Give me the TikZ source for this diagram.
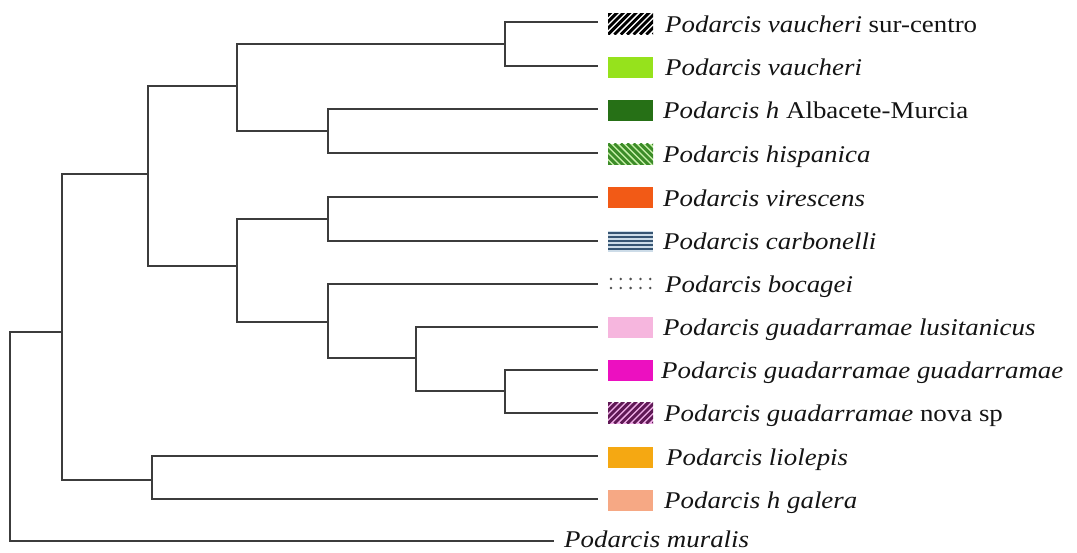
\documentclass[tikz,border=0pt]{standalone}
\usepackage{fontspec}
\usepackage{graphicx}
\setmainfont{Liberation Serif}
\newcommand{\lbtxt}[1]{\scalebox{1.12}[1]{#1}}
\definecolor{linegray}{RGB}{60,60,60}
\definecolor{txtcol}{RGB}{20,20,20}
\definecolor{limegr}{RGB}{150,226,28}
\definecolor{darkgr}{RGB}{38,112,22}
\definecolor{hisgr}{RGB}{60,140,40}
\definecolor{hisbg}{RGB}{200,240,170}
\definecolor{viror}{RGB}{242,90,22}
\definecolor{carbl}{RGB}{55,85,115}
\definecolor{carbg}{RGB}{205,220,232}
\definecolor{bocdot}{RGB}{80,80,80}
\definecolor{luspk}{RGB}{246,182,222}
\definecolor{guamg}{RGB}{236,16,192}
\definecolor{novpu}{RGB}{95,25,85}
\definecolor{novbg}{RGB}{240,175,232}
\definecolor{liolo}{RGB}{245,168,18}
\definecolor{galsa}{RGB}{246,168,132}
\begin{document}
\begin{tikzpicture}[x=1pt,y=-1pt,
  br/.style={line width=2pt, draw=linegray, line cap=rect},
  sw/.style={minimum width=45pt, minimum height=21pt, inner sep=0pt, outer sep=0pt},
  hatchne/.style 2 args={fill=#2, path picture={
     \foreach \k in {-5,...,8}{\draw[#1,line width=2.9pt] ([xshift={\k*6.4pt}]path picture bounding box.south west) -- ++(30pt,30pt);}}},
  hatchnw/.style 2 args={fill=#2, path picture={
     \foreach \k in {-5,...,8}{\draw[#1,line width=2.9pt] ([xshift={\k*6.4pt}]path picture bounding box.north west) -- ++(30pt,-30pt);}}},
  lbl/.style={anchor=base west, inner sep=0pt, text=txtcol, font=\fontsize{24}{28}\selectfont}
]
\useasboundingbox (0,0) rectangle (1077,552);

% leaf ends
\coordinate (l1) at (597,22);
\coordinate (l2) at (597,66);
\coordinate (l3) at (597,109);
\coordinate (l4) at (597,153);
\coordinate (l5) at (597,197);
\coordinate (l6) at (597,241);
\coordinate (l7) at (597,284);
\coordinate (l8) at (597,327);
\coordinate (l9) at (597,370);
\coordinate (l10) at (597,413);
\coordinate (l11) at (597,456);
\coordinate (l12) at (597,499);
\coordinate (l13) at (553,541);

% internal nodes
\coordinate (v) at (505,44);
\coordinate (ah) at (328,131);
\coordinate (A) at (237,86);
\coordinate (vc) at (328,219);
\coordinate (g2) at (505,391);
\coordinate (g1) at (416,358);
\coordinate (bg) at (328,322);
\coordinate (B) at (237,266);
\coordinate (C) at (148,174);
\coordinate (lg) at (152,480);
\coordinate (D) at (61.5,332);
\coordinate (R) at (9.5,332);

% branches
\draw[br] (l1) -| (v) |- (l2);
\draw[br] (l3) -| (ah) |- (l4);
\draw[br] (v) -| (A) |- (ah);
\draw[br] (l5) -| (vc) |- (l6);
\draw[br] (l9) -| (g2) |- (l10);
\draw[br] (l8) -| (g1) |- (g2);
\draw[br] (l7) -| (bg) |- (g1);
\draw[br] (vc) -| (B) |- (bg);
\draw[br] (A) -| (C) |- (B);
\draw[br] (l11) -| (lg) |- (l12);
\draw[br] (C) -| (D) |- (lg);
\draw[br] (D) -| (R) |- (l13);

% swatches
\node[sw, hatchne={black}{white}] (s1) at (630.5,24) {};
\node[sw, fill=limegr] (s2) at (630.5,67) {};
\node[sw, fill=darkgr] (s3) at (630.5,110) {};
\node[sw, hatchnw={hisgr}{hisbg}] (s4) at (630.5,154) {};
\node[sw, fill=viror] (s5) at (630.5,197.5) {};
\node[sw, fill=carbg, path picture={
   \foreach \k in {0,...,4}{\draw[carbl,line width=2.4pt] ([yshift={-2.4pt-\k*4.05pt}]path picture bounding box.north west) -- ++(45pt,0pt);}}] (s6) at (630.5,241) {};
\node[sw, path picture={
   \foreach \i in {0,...,4}{\foreach \j in {0,1}{\fill[bocdot] ([xshift={3pt+\i*9.8pt}, yshift={-6pt-\j*9pt}]path picture bounding box.north west) circle (1.4pt);}}}] (s7) at (630.5,283.5) {};
\node[sw, fill=luspk] (s8) at (630.5,327) {};
\node[sw, fill=guamg] (s9) at (630.5,370) {};
\node[sw, hatchne={novpu}{novbg}] (s10) at (630.5,413) {};
\node[sw, fill=liolo] (s11) at (630.5,457) {};
\node[sw, fill=galsa] (s12) at (630.5,500) {};

% labels
\node[lbl] (t1) at (665,32) {\lbtxt{\textit{Podarcis vaucheri} sur-centro}};
\node[lbl] (t2) at (665,75) {\lbtxt{\textit{Podarcis vaucheri}}};
\node[lbl] (t3) at (663,118) {\lbtxt{\textit{Podarcis h} Albacete-Murcia}};
\node[lbl] (t4) at (663,162) {\lbtxt{\textit{Podarcis hispanica}}};
\node[lbl] (t5) at (663,206) {\lbtxt{\textit{Podarcis virescens}}};
\node[lbl] (t6) at (663,249) {\lbtxt{\textit{Podarcis carbonelli}}};
\node[lbl] (t7) at (665,292) {\lbtxt{\textit{Podarcis bocagei}}};
\node[lbl] (t8) at (663,335) {\lbtxt{\textit{Podarcis guadarramae lusitanicus}}};
\node[lbl] (t9) at (661,378) {\lbtxt{\textit{Podarcis guadarramae guadarramae}}};
\node[lbl] (t10) at (664,421) {\lbtxt{\textit{Podarcis guadarramae} nova sp}};
\node[lbl] (t11) at (666,465) {\lbtxt{\textit{Podarcis liolepis}}};
\node[lbl] (t12) at (664,508) {\lbtxt{\textit{Podarcis h galera}}};
\node[lbl] (t13) at (564,547) {\lbtxt{\textit{Podarcis muralis}}};
\end{tikzpicture}
\end{document}
